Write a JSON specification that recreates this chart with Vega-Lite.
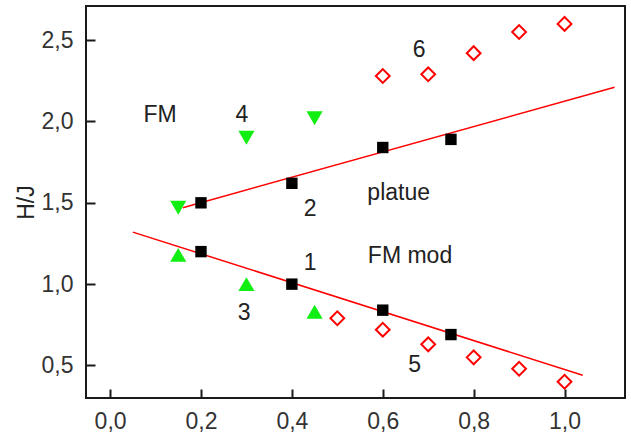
{
  "$schema": "https://vega.github.io/schema/vega-lite/v6.json",
  "width": 539,
  "height": 392,
  "autosize": {"type": "none"},
  "padding": {"left": 86, "top": 6, "right": 6, "bottom": 36},
  "background": "white",
  "config": {
    "view": {"stroke": "#1a1a1a", "strokeWidth": 2},
    "font": "Liberation Sans",
    "axis": {
      "domain": false,
      "grid": false,
      "labelFont": "Liberation Sans",
      "labelFontSize": 23,
      "labelColor": "#333333",
      "titleFont": "Liberation Sans",
      "titleFontWeight": "normal",
      "titleColor": "#222222"
    }
  },
  "resolve": {"axis": {"x": "independent", "y": "independent"}},
  "layer": [
    {
      "data": {
        "values": [
          {"fit": "upper", "x": 0.16, "y": 1.47},
          {"fit": "upper", "x": 1.11, "y": 2.21},
          {"fit": "lower", "x": 0.05, "y": 1.32},
          {"fit": "lower", "x": 1.04, "y": 0.44}
        ]
      },
      "mark": {"type": "line", "color": "#ff0000", "strokeWidth": 1.5},
      "encoding": {
        "detail": {"field": "fit"},
        "x": {
          "field": "x", "type": "quantitative",
          "scale": {"domain": [-0.053, 1.133], "nice": false, "zero": false},
          "axis": {
            "orient": "bottom", "values": [0, 0.2, 0.4, 0.6, 0.8, 1.0],
            "format": ".1f", "labelExpr": "replace(datum.label, '.', ',')",
            "tickColor": "#1a1a1a", "tickWidth": 2,
            "offset": -9, "tickSize": 9, "labelPadding": 12, "title": null
          }
        },
        "y": {
          "field": "y", "type": "quantitative",
          "scale": {"domain": [0.3, 2.71], "nice": false, "zero": false},
          "axis": {
            "orient": "left", "values": [0.5, 1.0, 1.5, 2.0, 2.5],
            "format": ".1f", "labelExpr": "replace(datum.label, '.', ',')",
            "tickColor": "#1a1a1a", "tickWidth": 2,
            "offset": -9, "tickSize": 9, "labelPadding": 13,
            "title": "H/J", "titleFontSize": 23, "titlePadding": 3
          }
        }
      }
    },
    {
      "data": {
        "values": [
          {"x": 0.2, "y": 1.5}, {"x": 0.4, "y": 1.62}, {"x": 0.6, "y": 1.84}, {"x": 0.75, "y": 1.89},
          {"x": 0.2, "y": 1.2}, {"x": 0.4, "y": 1.0}, {"x": 0.6, "y": 0.84}, {"x": 0.75, "y": 0.69}
        ]
      },
      "mark": {"type": "point", "shape": "square", "filled": true, "color": "#000000", "size": 130, "opacity": 1},
      "encoding": {
        "x": {"field": "x", "type": "quantitative", "axis": null},
        "y": {"field": "y", "type": "quantitative", "axis": null}
      }
    },
    {
      "data": {
        "values": [
          {"x": 0.15, "y": 1.47}, {"x": 0.3, "y": 1.9}, {"x": 0.45, "y": 2.02}
        ]
      },
      "mark": {"type": "point", "shape": "triangle-down", "filled": true, "color": "#11ee11", "size": 260, "opacity": 1},
      "encoding": {
        "x": {"field": "x", "type": "quantitative", "axis": null},
        "y": {"field": "y", "type": "quantitative", "axis": null}
      }
    },
    {
      "data": {
        "values": [
          {"x": 0.15, "y": 1.18}, {"x": 0.3, "y": 1.0}, {"x": 0.45, "y": 0.83}
        ]
      },
      "mark": {"type": "point", "shape": "triangle-up", "filled": true, "color": "#11ee11", "size": 260, "opacity": 1},
      "encoding": {
        "x": {"field": "x", "type": "quantitative", "axis": null},
        "y": {"field": "y", "type": "quantitative", "axis": null}
      }
    },
    {
      "data": {
        "values": [
          {"x": 0.6, "y": 2.28}, {"x": 0.7, "y": 2.29}, {"x": 0.8, "y": 2.42}, {"x": 0.9, "y": 2.55}, {"x": 1.0, "y": 2.6},
          {"x": 0.5, "y": 0.79}, {"x": 0.6, "y": 0.72}, {"x": 0.7, "y": 0.63}, {"x": 0.8, "y": 0.55}, {"x": 0.9, "y": 0.48}, {"x": 1.0, "y": 0.4}
        ]
      },
      "mark": {"type": "point", "shape": "diamond", "filled": false, "color": "#ff0000", "strokeWidth": 2, "size": 190, "opacity": 1},
      "encoding": {
        "x": {"field": "x", "type": "quantitative", "axis": null},
        "y": {"field": "y", "type": "quantitative", "axis": null}
      }
    },
    {
      "data": {
        "values": [
          {"x": 0.11, "y": 2.04, "label": "FM"},
          {"x": 0.29, "y": 2.04, "label": "4"},
          {"x": 0.68, "y": 2.44, "label": "6"},
          {"x": 0.635, "y": 1.56, "label": "platue"},
          {"x": 0.44, "y": 1.46, "label": "2"},
          {"x": 0.44, "y": 1.13, "label": "1"},
          {"x": 0.66, "y": 1.17, "label": "FM mod"},
          {"x": 0.295, "y": 0.82, "label": "3"},
          {"x": 0.67, "y": 0.5, "label": "5"}
        ]
      },
      "mark": {"type": "text", "fontSize": 23, "color": "#222222", "align": "center", "baseline": "middle"},
      "encoding": {
        "x": {"field": "x", "type": "quantitative", "axis": null},
        "y": {"field": "y", "type": "quantitative", "axis": null},
        "text": {"field": "label"}
      }
    }
  ]
}
